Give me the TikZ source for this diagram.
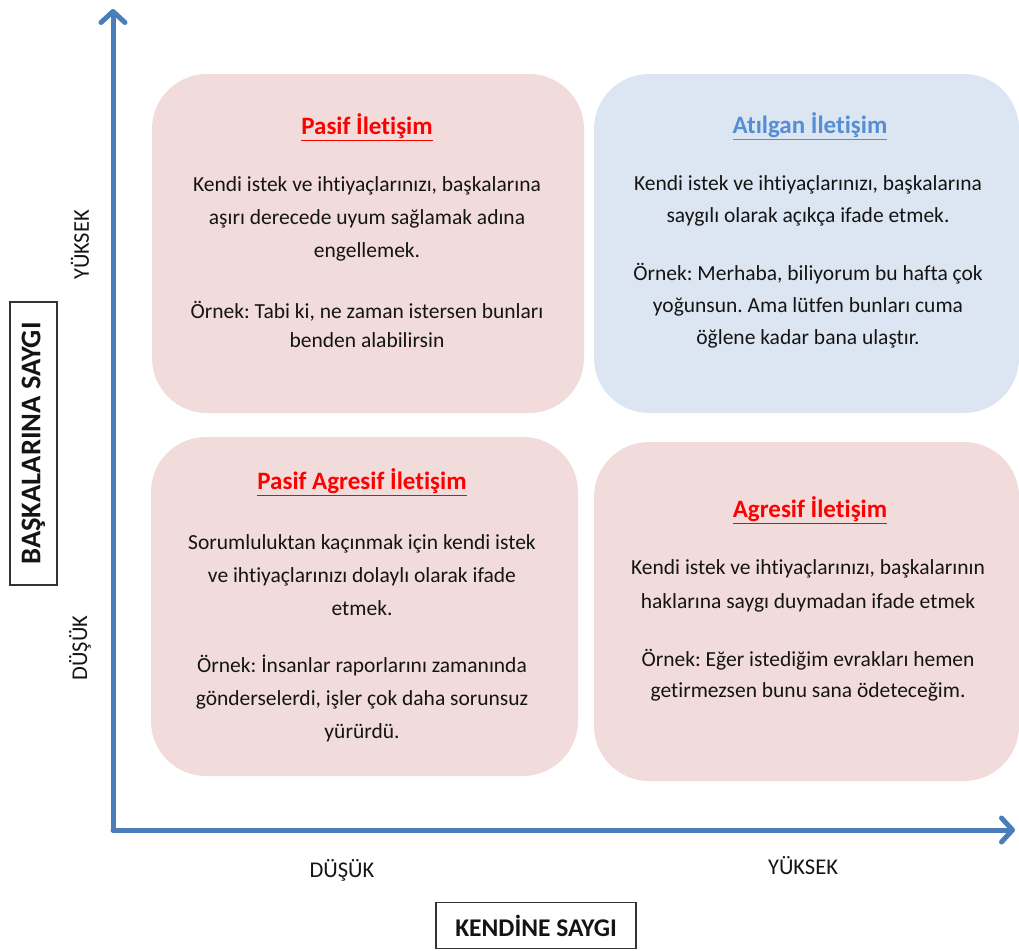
\documentclass[tikz,border=0pt]{standalone}
\usepackage{fontspec}
\setmainfont{Carlito}[Ligatures={CommonOff}]
\usetikzlibrary{arrows.meta}
\frenchspacing
\definecolor{axisblue}{RGB}{74,126,187}
\definecolor{pinkfill}{RGB}{242,220,219}
\definecolor{bluefill}{RGB}{220,230,242}
\definecolor{titlered}{RGB}{255,0,0}
\definecolor{titleblue}{RGB}{85,142,213}
\definecolor{txt}{RGB}{20,20,20}
\tikzset{
  quad/.style={rounded corners=55pt, inner sep=0pt},
  ttl/.style={font={\fontsize{25}{28}\selectfont\bfseries}, inner sep=0pt},
  para/.style={align=center, text=txt, inner sep=0pt},
  axislbl/.style={font={\fontsize{22.5}{26}\selectfont}, text=txt, inner sep=0pt},
  namebox/.style={draw=black!80, line width=1.5pt, text=txt, inner sep=0pt},
  axis/.style={line width=5pt, draw=axisblue, line cap=round, line join=round,
    -{Straight Barb[length=11pt,width=24pt,round]}},
}
\newcommand{\pfont}[1]{\fontsize{21.5}{#1}\selectfont\frenchspacing}
\begin{document}
\begin{tikzpicture}[x=1pt,y=-1pt]
\useasboundingbox (0,0) rectangle (1019,950);
% quadrants
\node[quad, fill=pinkfill, minimum width=432pt, minimum height=339pt] (tl) at (368,243.5) {};
\node[quad, fill=bluefill, minimum width=425pt, minimum height=339pt] (tr) at (806.5,243.5) {};
\node[quad, fill=pinkfill, minimum width=427pt, minimum height=339pt] (bl) at (364.5,606.5) {};
\node[quad, fill=pinkfill, minimum width=425pt, minimum height=339pt] (br) at (806.5,611.5) {};
% top-left
\node[ttl, text=titlered] (tlt) at (367,127) {\underline{Pasif İletişim}};
\node[para, font=\pfont{33}] (tlp1) at (367,219) {Kendi istek ve ihtiyaçlarınızı, başkalarına\\aşırı derecede uyum sağlamak adına\\engellemek.};
\node[para, font=\pfont{29}] (tlp2) at (367,324) {Örnek: Tabi ki, ne zaman istersen bunları\\benden alabilirsin};
% top-right
\node[ttl, text=titleblue] (trt) at (810,126) {\underline{Atılgan İletişim}};
\node[para, font=\pfont{32}] (trp1) at (808,201) {Kendi istek ve ihtiyaçlarınızı, başkalarına\\saygılı olarak açıkça ifade etmek.};
\node[para, font=\pfont{32}] (trp2) at (808,306) {Örnek: Merhaba, biliyorum bu hafta çok\\yoğunsun. Ama lütfen bunları cuma\\öğlene kadar bana ulaştır.};
% bottom-left
\node[ttl, text=titlered] (blt) at (362,482) {\underline{Pasif Agresif İletişim}};
\node[para, font=\pfont{33}] (blp1) at (362,575) {Sorumluluktan kaçınmak için kendi istek\\ve ihtiyaçlarınızı dolaylı olarak ifade\\etmek.};
\node[para, font=\pfont{33}] (blp2) at (362,698) {Örnek: İnsanlar raporlarını zamanında\\gönderselerdi, işler çok daha sorunsuz\\yürürdü.};
% bottom-right
\node[ttl, text=titlered] (brt) at (810,510) {\underline{Agresif İletişim}};
\node[para, font=\pfont{34}] (brp1) at (808,586) {Kendi istek ve ihtiyaçlarınızı, başkalarının\\haklarına saygı duymadan ifade etmek};
\node[para, font=\pfont{31}] (brp2) at (808,675.5) {Örnek: Eğer istediğim evrakları hemen\\getirmezsen bunu sana ödeteceğim.};
% axes
\coordinate (o) at (113,830);
\coordinate (ytip) at (113,9);
\coordinate (xtip) at (1015,830);
\draw[axis] (o) -- (ytip);
\draw[axis] (o) -- (xtip);
% axis labels
\node[axislbl, rotate=90] (yhi) at (80,245) {YÜKSEK};
\node[axislbl, rotate=90] (ylo) at (80,648) {DÜŞÜK};
\node[axislbl] (xlo) at (342,870) {DÜŞÜK};
\node[axislbl] (xhi) at (803,866) {YÜKSEK};
% axis names
\node[namebox, rotate=90, minimum width=283pt, minimum height=47pt, font={\fontsize{28.5}{32}\selectfont\bfseries}] (yname) at (33.5,443.5) {BAŞKALARINA SAYGI};
\node[namebox, minimum width=200pt, minimum height=46pt, font={\fontsize{25.5}{30}\selectfont\bfseries}] (xname) at (536,925.5) {KENDİNE SAYGI};
\end{tikzpicture}
\end{document}
